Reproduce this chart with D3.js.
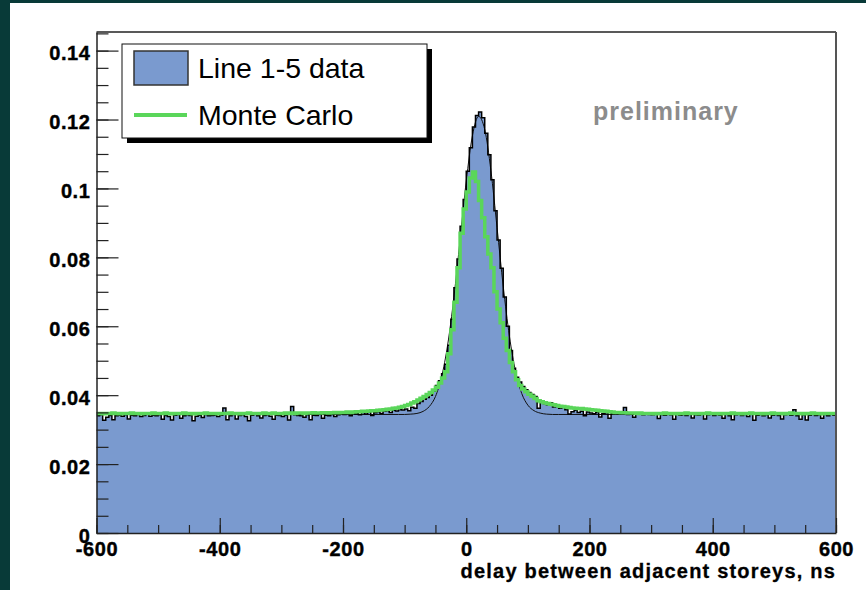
<!DOCTYPE html>
<html>
<head>
<meta charset="utf-8">
<script src="https://cdn.jsdelivr.net/npm/d3@7"></script>
<style>
body { margin: 0; background: #083a38; }
svg { display: block; }
text { font-family: "Liberation Sans", Arial, Helvetica, sans-serif; }
</style>
</head>
<body>
<script>
// histogram bins: 5 ns wide, from -600 to 600 ns
let binLow = -600;
let binWidth = 5;

// Line 1-5 data, one value per bin, in units of 1e-4
let dataCounts = [
    340, 343, 327, 336, 341, 329, 340, 342, 339, 343, 331, 342, 340, 344, 338, 341, 345, 339, 342, 340,
    343, 330, 341, 338, 328, 342, 344, 333, 340, 343, 341, 326, 339, 342, 335, 344, 340, 341, 342, 338,
    342, 363, 329, 340, 344, 331, 341, 343, 338, 326, 342, 345, 340, 334, 341, 343, 339, 330, 342, 341,
    338, 342, 328, 367, 343, 341, 340, 336, 343, 329, 342, 341, 345, 333, 342, 340, 344, 338, 343, 346,
    344, 347, 340, 348, 346, 343, 350, 345, 351, 341, 349, 352, 347, 353, 355, 350, 356, 354, 358, 357,
    360, 355, 365, 362, 376, 382, 388, 393, 400, 412, 428, 442, 462, 490, 545, 620, 712, 795, 890, 968,
    1050, 1118, 1178, 1212, 1222, 1205, 1160, 1098, 1025, 935, 850, 768, 685, 600, 530, 478, 452, 438, 425, 416,
    408, 402, 396, 362, 382, 376, 372, 378, 366, 370, 362, 365, 358, 345, 352, 356, 350, 353, 340, 351,
    348, 346, 350, 337, 347, 349, 333, 346, 348, 345, 347, 364, 344, 346, 336, 345, 347, 343, 346, 344,
    343, 345, 332, 344, 342, 346, 343, 330, 345, 342, 344, 341, 345, 334, 343, 342, 346, 331, 343, 345,
    341, 344, 342, 333, 345, 340, 329, 343, 345, 341, 344, 338, 345, 327, 342, 344, 340, 343, 334, 342,
    344, 341, 331, 343, 345, 342, 358, 340, 330, 343, 328, 342, 345, 341, 343, 333, 344, 340, 345, 342
];

// Monte Carlo, same bins, units of 1e-4
let mcCounts = [
    347, 347, 346, 347, 347, 348, 347, 346, 347, 347, 347, 348, 347, 347, 346, 347, 347, 347, 348, 347,
    347, 347, 348, 347, 346, 347, 347, 347, 348, 347, 347, 346, 347, 347, 347, 348, 347, 347, 347, 346,
    347, 347, 347, 348, 347, 347, 346, 347, 347, 348, 347, 347, 347, 347, 348, 347, 347, 348, 347, 347,
    347, 348, 347, 348, 347, 348, 348, 347, 348, 348, 349, 348, 348, 349, 349, 348, 349, 350, 349, 350,
    350, 351, 350, 351, 352, 352, 353, 353, 354, 355, 355, 356, 357, 358, 359, 360, 362, 363, 365, 367,
    370, 373, 377, 381, 386, 391, 396, 402, 408, 415, 423, 435, 450, 468, 520, 590, 670, 770, 870, 940,
    990, 1030, 1048, 1020, 965, 915, 860, 810, 770, 700, 650, 610, 565, 530, 495, 468, 445, 428, 418, 410,
    403, 397, 390, 384, 381, 378, 376, 374, 372, 370, 368, 367, 366, 364, 363, 362, 361, 361, 360, 359,
    358, 357, 356, 355, 354, 353, 352, 351, 350, 350, 349, 349, 348, 348, 348, 347, 348, 347, 347, 347,
    347, 346, 347, 347, 348, 347, 347, 347, 346, 347, 347, 348, 347, 347, 347, 346, 347, 347, 348, 347,
    347, 347, 346, 347, 347, 347, 348, 347, 347, 346, 347, 347, 348, 347, 347, 347, 346, 347, 347, 348,
    347, 347, 347, 346, 347, 348, 347, 347, 347, 346, 347, 347, 348, 347, 347, 346, 347, 347, 347, 347
];

// gaussian fit to the data (thin black line), units of 1e-4
let fitX = [-600, -110, -100, -90, -80, -70, -60, -50, -40, -30, -20, -10, 0, 10, 20, 30, 40, 50, 60, 70, 80, 90, 100, 110, 120, 130, 140, 150, 600];
let fitY = [344, 344, 344, 345, 347, 353, 367, 396, 453, 548, 684, 851, 1021, 1153, 1209, 1171, 1052, 886, 716, 572, 469, 405, 371, 355, 348, 345, 344, 344, 344];

let xTicks = [-600, -400, -200, 0, 200, 400, 600];
let yTicks = [0, 0.02, 0.04, 0.06, 0.08, 0.1, 0.12, 0.14];
let legendNames = ["Line 1-5 data", "Monte Carlo"];
let xTitle = "delay between adjacent storeys, ns";
let stamp = "preliminary";

let width = 866;
let height = 590;
let blue = "#7a9acf";
let green = "#5ad65a";

let svg = d3.select("body").append("svg")
    .attr("width", width)
    .attr("height", height);

svg.append("rect")
    .attr("x", 10).attr("y", 3)
    .attr("width", width - 10).attr("height", height - 3)
    .attr("fill", "white");

let x = d3.scaleLinear().domain([-600, 600]).range([96.5, 836]);
let y = d3.scaleLinear().domain([0, 0.1454]).range([533, 32]);

svg.append("clipPath").attr("id", "plotclip")
    .append("rect")
    .attr("x", x.range()[0]).attr("y", y.range()[1])
    .attr("width", x.range()[1] - x.range()[0])
    .attr("height", y.range()[0] - y.range()[1]);

function toSteps(counts){
    let pts = counts.map((v, i) => ({"x": binLow + i * binWidth, "y": v * 1e-4}));
    pts.push({"x": binLow + counts.length * binWidth, "y": counts[counts.length - 1] * 1e-4});
    return pts;
}

let dataPts = toSteps(dataCounts);
let mcPts = toSteps(mcCounts);
let fitPts = fitX.map((v, i) => ({"x": v, "y": fitY[i] * 1e-4}));

let plot = svg.append("g").attr("clip-path", "url(#plotclip)");

let area = d3.area()
    .x(d => x(d.x))
    .y0(y(0))
    .y1(d => y(d.y))
    .curve(d3.curveStepAfter);

let step = d3.line()
    .x(d => x(d.x))
    .y(d => y(d.y))
    .curve(d3.curveStepAfter);

plot.append("path")
    .datum(dataPts)
    .attr("d", area)
    .attr("fill", blue);

plot.append("path")
    .datum(fitPts)
    .attr("d", d3.line().x(d => x(d.x)).y(d => y(d.y)).curve(d3.curveMonotoneX))
    .attr("fill", "none")
    .attr("stroke", "#111")
    .attr("stroke-width", 1);

plot.append("path")
    .datum(dataPts)
    .attr("d", step)
    .attr("fill", "none")
    .attr("stroke", "black")
    .attr("stroke-width", 1.5);

plot.append("path")
    .datum(mcPts)
    .attr("d", step)
    .attr("fill", "none")
    .attr("stroke", green)
    .attr("stroke-width", 3.5);

// frame
svg.append("line")
    .attr("x1", x.range()[0]).attr("x2", x.range()[1])
    .attr("y1", y.range()[1]).attr("y2", y.range()[1])
    .attr("stroke", "#222").attr("stroke-width", 1.5);
svg.append("line")
    .attr("x1", x.range()[1]).attr("x2", x.range()[1])
    .attr("y1", y.range()[1]).attr("y2", y.range()[0])
    .attr("stroke", "#555").attr("stroke-width", 2);

// axes, ticks pointing into the pad like ROOT
let yFmt = d => d === 0 ? "0" : String(+d.toFixed(2));

let yMinor = svg.append("g")
    .attr("transform", `translate(${x.range()[0]},0)`)
    .call(d3.axisLeft(y).tickValues(d3.range(0, 0.1451, 0.005)).tickSize(-12).tickFormat(""));
yMinor.select(".domain").remove();

let yAxis = svg.append("g")
    .attr("transform", `translate(${x.range()[0]},0)`)
    .call(d3.axisLeft(y).tickValues(yTicks).tickSize(-22).tickSizeOuter(0).tickPadding(6).tickFormat(yFmt));

let xMinor = svg.append("g")
    .attr("transform", `translate(0,${y.range()[0]})`)
    .call(d3.axisBottom(x).tickValues(d3.range(-600, 601, 50)).tickSize(-8).tickFormat(""));
xMinor.select(".domain").remove();

let xAxis = svg.append("g")
    .attr("transform", `translate(0,${y.range()[0]})`)
    .call(d3.axisBottom(x).tickValues(xTicks).tickSize(-15).tickSizeOuter(0).tickPadding(9).tickFormat(d => String(d)));

[yMinor, yAxis, xMinor, xAxis].forEach(g => {
    g.selectAll("line").attr("stroke", "#222").attr("stroke-width", 1.2);
    g.selectAll(".domain").attr("stroke", "#222").attr("stroke-width", 1.5);
});

[yAxis, xAxis].forEach(g => {
    g.selectAll("text")
        .attr("fill", "black")
        .attr("stroke", "black")
        .attr("stroke-width", 0.4)
        .style("font-family", "'Liberation Sans', Arial, sans-serif")
        .style("font-size", "20px")
        .style("font-weight", "bold")
        .style("letter-spacing", "0.6px");
});
yAxis.selectAll("text").attr("dy", "0.45em");

svg.append("text")
    .attr("x", 836)
    .attr("y", 578)
    .attr("text-anchor", "end")
    .attr("stroke", "black")
    .attr("stroke-width", 0.3)
    .style("font-size", "20px")
    .style("font-weight", "bold")
    .style("letter-spacing", "1.2px")
    .text(xTitle);

svg.append("text")
    .attr("x", 593)
    .attr("y", 120)
    .attr("fill", "#8c8c8c")
    .style("font-size", "25px")
    .style("font-weight", "bold")
    .style("letter-spacing", "1px")
    .text(stamp);

// legend with drop shadow
let legend = svg.append("g").attr("transform", "translate(122,44)");
legend.append("rect")
    .attr("x", 5).attr("y", 5)
    .attr("width", 305).attr("height", 94)
    .attr("fill", "black");
legend.append("rect")
    .attr("x", 0).attr("y", 0)
    .attr("width", 305).attr("height", 94)
    .attr("fill", "white")
    .attr("stroke", "#111")
    .attr("stroke-width", 1);
legend.append("rect")
    .attr("x", 12).attr("y", 7)
    .attr("width", 54).attr("height", 34)
    .attr("fill", blue)
    .attr("stroke", "#333")
    .attr("stroke-width", 1.5);
legend.append("line")
    .attr("x1", 12).attr("x2", 65)
    .attr("y1", 71).attr("y2", 71)
    .attr("stroke", green)
    .attr("stroke-width", 4);
legend.selectAll(".legend-item")
    .data(legendNames)
    .enter().append("text")
    .attr("class", "legend-item")
    .attr("x", 76)
    .attr("y", (d, i) => 34 + 47 * i)
    .style("font-size", "28.5px")
    .text(d => d);
</script>
</body>
</html>
